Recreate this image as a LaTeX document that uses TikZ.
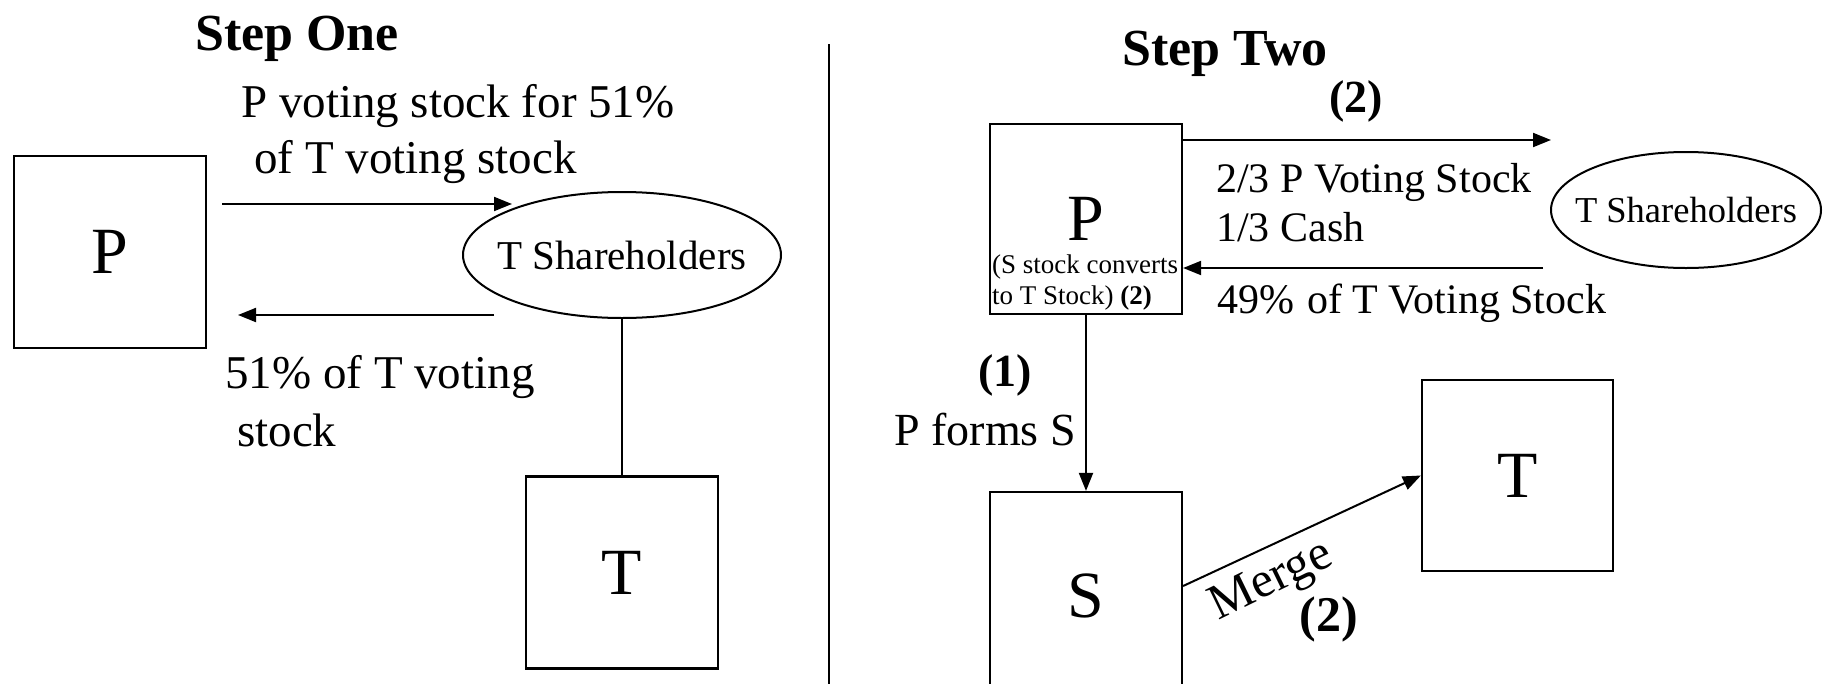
\documentclass[tikz,border=0pt]{standalone}
\usepackage{fontspec}
\setmainfont{Liberation Serif}
\usetikzlibrary{arrows.meta,shapes.geometric}
\begin{document}
\begin{tikzpicture}[x=1pt,y=-1pt,
  box/.style={draw, line width=2.2pt, minimum width=192pt, minimum height=192pt, inner sep=0pt, font=\fontsize{66}{70}\selectfont},
  ell/.style={draw, ellipse, line width=2pt, inner sep=0pt},
  txt/.style={inner sep=0pt, anchor=base west},
  big/.style={font=\fontsize{47}{56}\selectfont},
  mid/.style={font=\fontsize{42}{50}\selectfont},
  small/.style={font=\fontsize{27}{30}\selectfont},
  bnum/.style={inner sep=0pt, font=\fontsize{46}{50}\selectfont\bfseries},
  ttl/.style={inner sep=0pt, anchor=base, font=\fontsize{52}{60}\selectfont\bfseries},
  conn/.style={line width=2pt},
  arr/.style={conn, -{Triangle[length=18pt,width=14pt]}}]
\fill[white] (0,0) rectangle (1824,683);
\useasboundingbox (0,0) rectangle (1824,683);
% ---------- Step One ----------
\node[ttl] (title1) at (297,50) {Step One};
\node[box] (P1) at (110,252) {P};
\node[box] (T1) at (622,572.5) {T};
\node[ell, minimum width=318pt, minimum height=126pt,
      label={[font=\fontsize{41}{48}\selectfont, inner sep=0pt]center:T Shareholders}] (SH1) at (622,255) {};
\node[txt, big] (l1a) at (241,117) {P voting stock for 51\%};
\node[txt, big] (l1b) at (254,173) {of T voting stock};
\node[txt, big] (l2a) at (225,388) {51\% of T voting};
\node[txt, big] (l2b) at (237,446) {stock};
\coordinate (a1s) at (222,204);
\coordinate (a1e) at (512,204);
\coordinate (a2s) at (494,315);
\coordinate (a2e) at (238,315);
\draw[arr] (a1s) -- (a1e);
\draw[arr] (a2s) -- (a2e);
\draw[conn] (SH1.south) -- (T1.north);
% ---------- divider ----------
\coordinate (d1) at (829,44);
\coordinate (d2) at (829,690);
\draw[line width=2.5pt] (d1) -- (d2);
% ---------- Step Two ----------
\node[ttl] (title2) at (1225,65) {Step Two};
\node[box, minimum height=190pt] (P2) at (1086,219) {P};
\node[txt, small] (p2a) at (992,273) {(S stock converts};
\node[txt, small] (p2b) at (992,304) {to T Stock) \textbf{(2)}};
\node[box, minimum height=208pt] (S) at (1086,596) {S};
\node[box, minimum width=191pt, minimum height=191pt] (T2) at (1517.5,475.5) {T};
\node[ell, minimum width=270pt, minimum height=116pt,
      label={[font=\fontsize{36.5}{40}\selectfont, inner sep=0pt]center:T Shareholders}] (SH2) at (1686,210) {};
\node[bnum] (n2a) at (1356,101) {(2)};
\node[txt, mid] (r1a) at (1216,192) {2/3 P Voting Stock};
\node[txt, mid] (r1b) at (1216,241) {1/3 Cash};
\node[txt, mid] (r2) at (1217,313) {49\%\hspace{13pt}of T Voting Stock};
\node[bnum] (n1) at (1005,375) {(1)};
\node[inner sep=0pt, anchor=base east, font=\fontsize{46}{50}\selectfont] (pf) at (1076,445) {P forms S};
\node[inner sep=0pt, rotate=26, font=\fontsize{50}{56}\selectfont] (merge) at (1272,582) {Merge};
\node[bnum, font=\fontsize{50}{56}\selectfont\bfseries] (n2b) at (1329,619) {(2)};
\coordinate (b1e) at (1551,140);
\coordinate (b2s) at (1543,268);
\draw[arr] (P2.east |- b1e) -- (b1e);
\draw[arr] (b2s) -- (P2.east |- b2s);
\draw[arr] (P2.south) -- (S.north);
\draw[arr] ([yshift=10pt]S.east) -- (T2.west);
\end{tikzpicture}
\end{document}
